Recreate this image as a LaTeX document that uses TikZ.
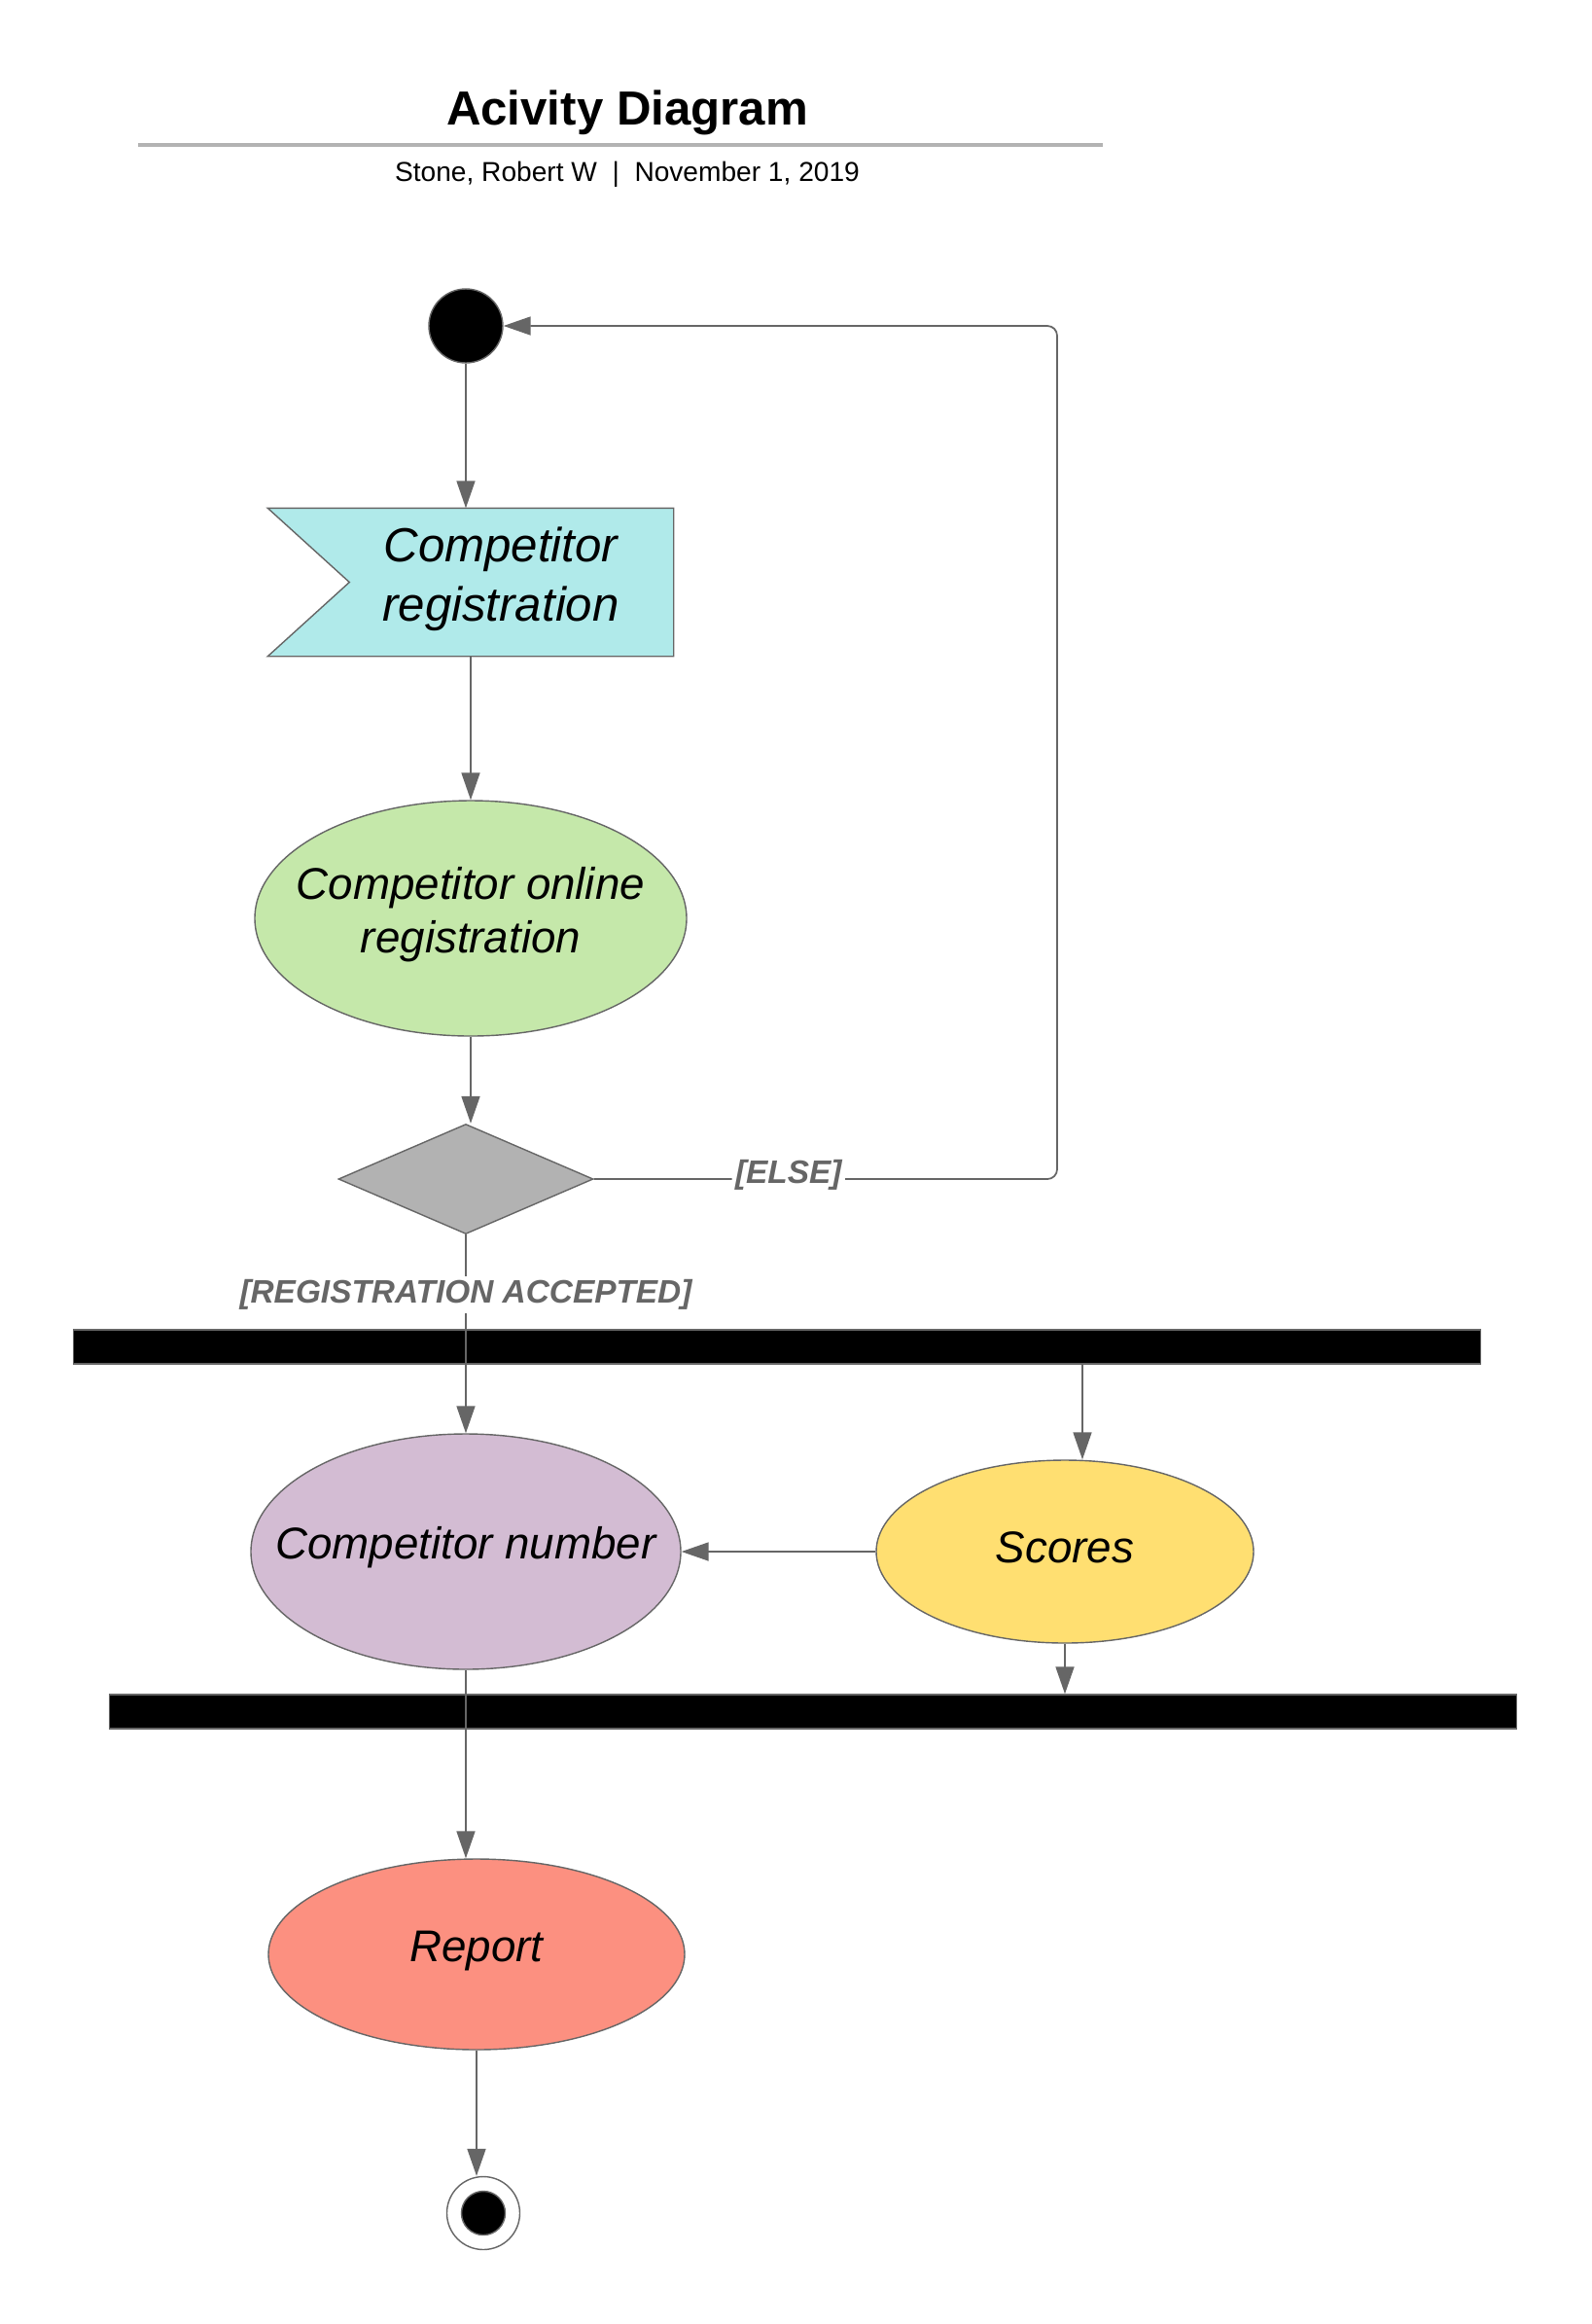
\documentclass[tikz,border=0pt]{standalone}
\usepackage{fontspec}
\setmainfont{Liberation Sans}
\usepackage{tikz}
\usetikzlibrary{shapes.geometric,arrows.meta}
\definecolor{linegrey}{RGB}{102,102,102}
\definecolor{rulegrey}{RGB}{179,179,179}
\definecolor{cyanfill}{RGB}{176,234,234}
\definecolor{greenfill}{RGB}{197,232,170}
\definecolor{purplefill}{RGB}{211,188,211}
\definecolor{yellowfill}{RGB}{255,223,113}
\definecolor{salmonfill}{RGB}{252,144,128}
\definecolor{decisionfill}{RGB}{178,178,178}

\begin{document}
\begin{tikzpicture}[
	flow/.style = {draw=linegrey, line width=0.5pt, -{Triangle[length=2.8mm,width=1.9mm]}},
	activity/.style = {ellipse, draw=linegrey, line width=0.4pt, inner sep=0pt},
	acttext/.style = {align=center, yshift=0.04cm, font=\fontsize{13}{15.6}\selectfont\itshape},
	forkbar/.style = {rectangle, fill=black, draw=linegrey, line width=0.4pt, minimum width=14.47cm, minimum height=0.35cm, inner sep=0pt},
	guard/.style = {fill=white, text=linegrey, inner sep=1pt, font=\fontsize{9.5}{11}\selectfont\bfseries\itshape}]
				\useasboundingbox (0,0) rectangle (16.37,-23.89);
				% heading
				\node[anchor=base, font=\fontsize{14}{17}\selectfont\bfseries] (title) at (6.45,-1.28) {Acivity Diagram};
				\draw[rulegrey, line width=1.1pt] (1.42,-1.49) -- (11.34,-1.49);
				\node[anchor=base, font=\fontsize{8}{10}\selectfont] (byline) at (6.45,-1.86) {Stone, Robert W\ \ |\ \ November 1, 2019};
				% nodes
				\node[circle, fill=black, draw=linegrey, minimum size=0.76cm, inner sep=0pt] (start) at (4.79,-3.35) {};
				\node[minimum width=4.16cm, minimum height=1.51cm, inner sep=0pt] (receive) at (4.84,-5.985) {};
				\filldraw[fill=cyanfill, draw=linegrey, line width=0.4pt] (receive.north west) -- (receive.north east) -- (receive.south east) -- (receive.south west) -- ([xshift=0.84cm]receive.west) -- cycle;
				\node[align=center, font=\fontsize{14}{17.3}\selectfont\itshape] (receivetext) at ([xshift=0.31cm, yshift=0.03cm]receive.center) {Competitor\\registration};
				\node[activity, fill=greenfill, minimum width=4.44cm, minimum height=2.42cm] (online) at (4.84,-9.44) {};
				\node[acttext] (onlinetext) at (online) {Competitor online\\registration};
				\node[diamond, fill=decisionfill, draw=linegrey, line width=0.4pt, minimum width=2.62cm, minimum height=1.13cm, inner sep=0pt] (decision) at (4.79,-12.12) {};
				\node[forkbar] (fork) at (7.99,-13.845) {};
				\node[activity, fill=purplefill, minimum width=4.42cm, minimum height=2.42cm] (number) at (4.79,-15.95) {};
				\node[acttext] (numbertext) at (number) {Competitor number};
				\node[activity, fill=yellowfill, minimum width=3.88cm, minimum height=1.88cm] (scores) at (10.95,-15.95) {};
				\node[acttext] (scorestext) at (scores) {Scores};
				\node[forkbar] (join) at (8.36,-17.595) {};
				\node[activity, fill=salmonfill, minimum width=4.28cm, minimum height=1.96cm] (report) at (4.90,-20.09) {};
				\node[acttext] (reporttext) at (report) {Report};
				\node[circle, fill=white, draw=linegrey, line width=0.4pt, minimum size=0.75cm, inner sep=0pt] (finish) at (4.97,-22.75) {};
				\node[circle, fill=black, draw=linegrey, line width=0.4pt, minimum size=0.45cm, inner sep=0pt] (finishdot) at (finish) {};
				% connectors
				\coordinate (loopback) at (10.87,-3.35);
				\draw[flow] (start.south) -- (start.south |- receive.north);
				\draw[flow] (receive.south) -- (online.north);
				\draw[flow] (online.south) -- (online.south |- decision.north);
				\draw[flow] (decision.south) -- node[guard, pos=0.304] {[REGISTRATION ACCEPTED]} (number.north);
				\draw[flow, rounded corners=0.1cm] (decision.east) -- node[guard, pos=0.42, yshift=0.04cm] {[ELSE]} (decision.east -| loopback) -- (loopback) -- (start.east);
				\draw[flow] ([xshift=0.18cm]fork.south -| scores.north) -- ([xshift=0.18cm]scores.north);
				\draw[flow] (scores.west) -- (number.east);
				\draw[flow] (scores.south) -- (scores.south |- join.north);
				\draw[flow] (number.south) -- (number.south |- report.north);
				\draw[flow] (report.south) -- (report.south |- finish.north);
			\end{tikzpicture}
\end{document}
